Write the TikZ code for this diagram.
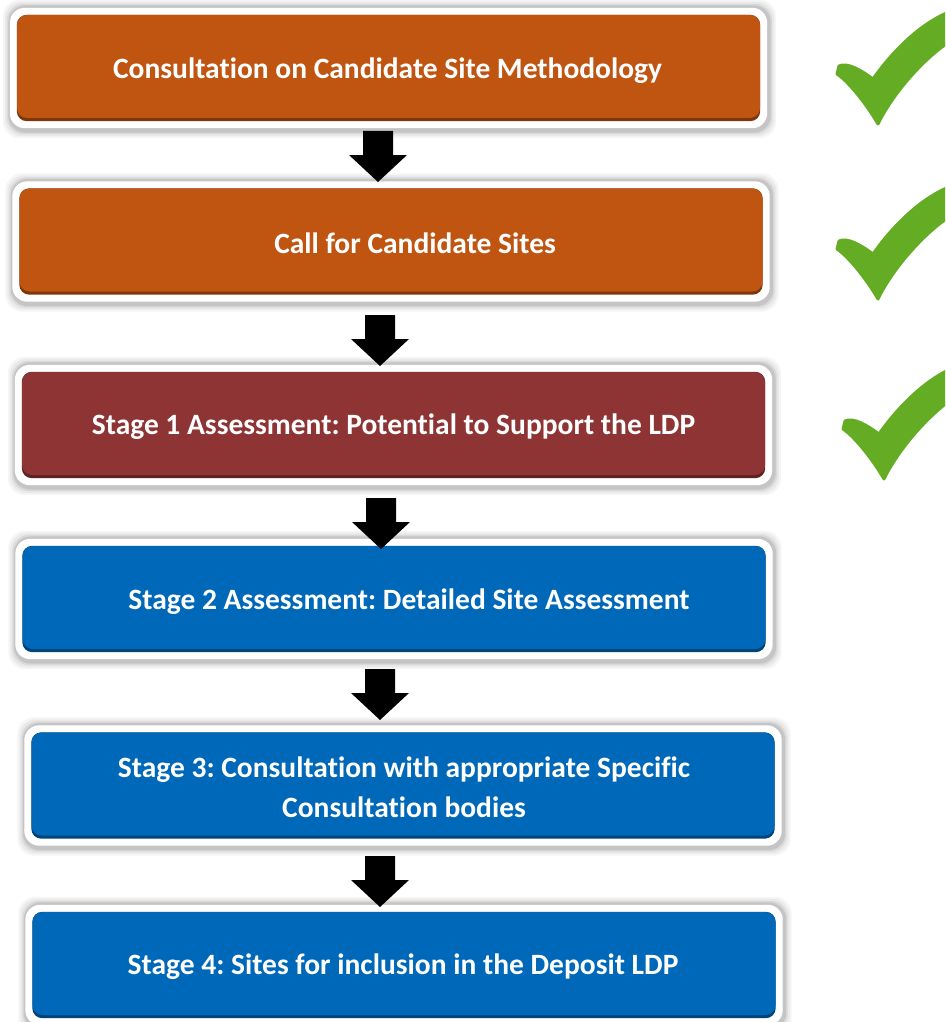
\documentclass[tikz,border=0pt]{standalone}
\usepackage{fontspec}
\setmainfont[Ligatures=CommonOff]{Carlito}
\frenchspacing
\usetikzlibrary{backgrounds,calc}
\definecolor{orangeC}{RGB}{192,84,17}
\definecolor{redC}{RGB}{142,52,52}
\definecolor{blueC}{RGB}{0,104,184}
\definecolor{greenC}{RGB}{99,172,36}
\newcommand\stagedeco[2]{%
  \begin{scope}[on background layer]
    \foreach \s/\o in {15/0.04,13/0.05,11/0.07,9.5/0.09}{
      \fill[black,opacity=\o,rounded corners=17pt]
        ($(#1.south west)+(-\s pt+1pt,-\s pt-5pt)$) rectangle ($(#1.north east)+(\s pt+1pt,\s pt)$);}
    \fill[white,rounded corners=15pt]
      ($(#1.south west)+(-7pt,-10pt)$) rectangle ($(#1.north east)+(7pt,7pt)$);
    \fill[#2!65!black,rounded corners=10pt]
      ($(#1.south west)+(0pt,-3pt)$) rectangle (#1.north east);
  \end{scope}}
\newcommand\downarr[1]{%
  \fill[black] (#1) ++(-15pt,0pt) -- ++(30pt,0pt) -- ++(0pt,-24pt) -- ++(14pt,0pt)
    -- ++(-29pt,-27pt) -- ++(-29pt,27pt) -- ++(14pt,0pt) -- cycle;}
\begin{document}
\begin{tikzpicture}[x=1pt,y=-1pt,
  stagebox/.style={rounded corners=10pt, minimum width=743pt, minimum height=103pt,
    inner sep=0pt, fill=#1},
  stagetext/.style={text=white, align=center, inner sep=0pt,
    font=\bfseries\fontsize{29.5}{40}\selectfont},
  checkfill/.style={fill=greenC, draw=greenC, line width=3pt, line join=round},
  checkmark/.pic={\filldraw[checkfill] (2,-4) .. controls (10,-8) and (24,0) .. (36,9)
     .. controls (52,-14) and (80,-45) .. (112,-58) -- (112,-28)
     .. controls (85,-10) and (55,25) .. (41,54)
     .. controls (30,35) and (12,12) .. (0,4) -- cycle;}]
\useasboundingbox (0,0) rectangle (945,1022);
\clip (0,0) rectangle (945,1022);
% boxes
\node[stagebox=orangeC] (b1) at (388.5,66.5) {};
\node[stagebox=orangeC] (b2) at (391,240) {};
\node[stagebox=redC]    (b3) at (393.5,423.5) {};
\node[stagebox=blueC]   (b4) at (394,597.5) {};
\node[stagebox=blueC]   (b5) at (403,784) {};
\node[stagebox=blueC]   (b6) at (404,963.5) {};
\stagedeco{b1}{orangeC}
\stagedeco{b2}{orangeC}
\stagedeco{b3}{redC}
\stagedeco{b4}{blueC}
\stagedeco{b5}{blueC}
\stagedeco{b6}{blueC}
% texts
\node[stagetext] (t1) at ($(b1.center)+(-1pt,-4pt)$) {Consultation on Candidate Site Methodology};
\node[stagetext] (t2) at ($(b2.center)+(24pt,-3pt)$) {Call for Candidate Sites};
\node[stagetext] (t3) at ($(b3.center)+(0pt,-3pt)$) {Stage 1 Assessment: Potential to Support the LDP};
\node[stagetext] (t4) at ($(b4.center)+(15pt,-4pt)$) {Stage 2 Assessment: Detailed Site Assessment};
\node[stagetext] (t5) at ($(b5.center)+(1pt,-3pt)$) {Stage 3: Consultation with appropriate Specific\\Consultation bodies};
\node[stagetext] (t6) at ($(b6.center)+(-1pt,-3pt)$) {Stage 4: Sites for inclusion in the Deposit LDP};
% arrows
\coordinate (a1) at (378,131);
\coordinate (a2) at (380,315);
\coordinate (a3) at (381,498);
\coordinate (a4) at (380,669);
\coordinate (a5) at (380,856);
\downarr{a1}
\downarr{a2}
\downarr{a3}
\downarr{a4}
\downarr{a5}
% check marks
\pic at (837,70) {checkmark};
\pic at (837,245) {checkmark};
\pic at (843,425) {checkmark};
\end{tikzpicture}
\end{document}
